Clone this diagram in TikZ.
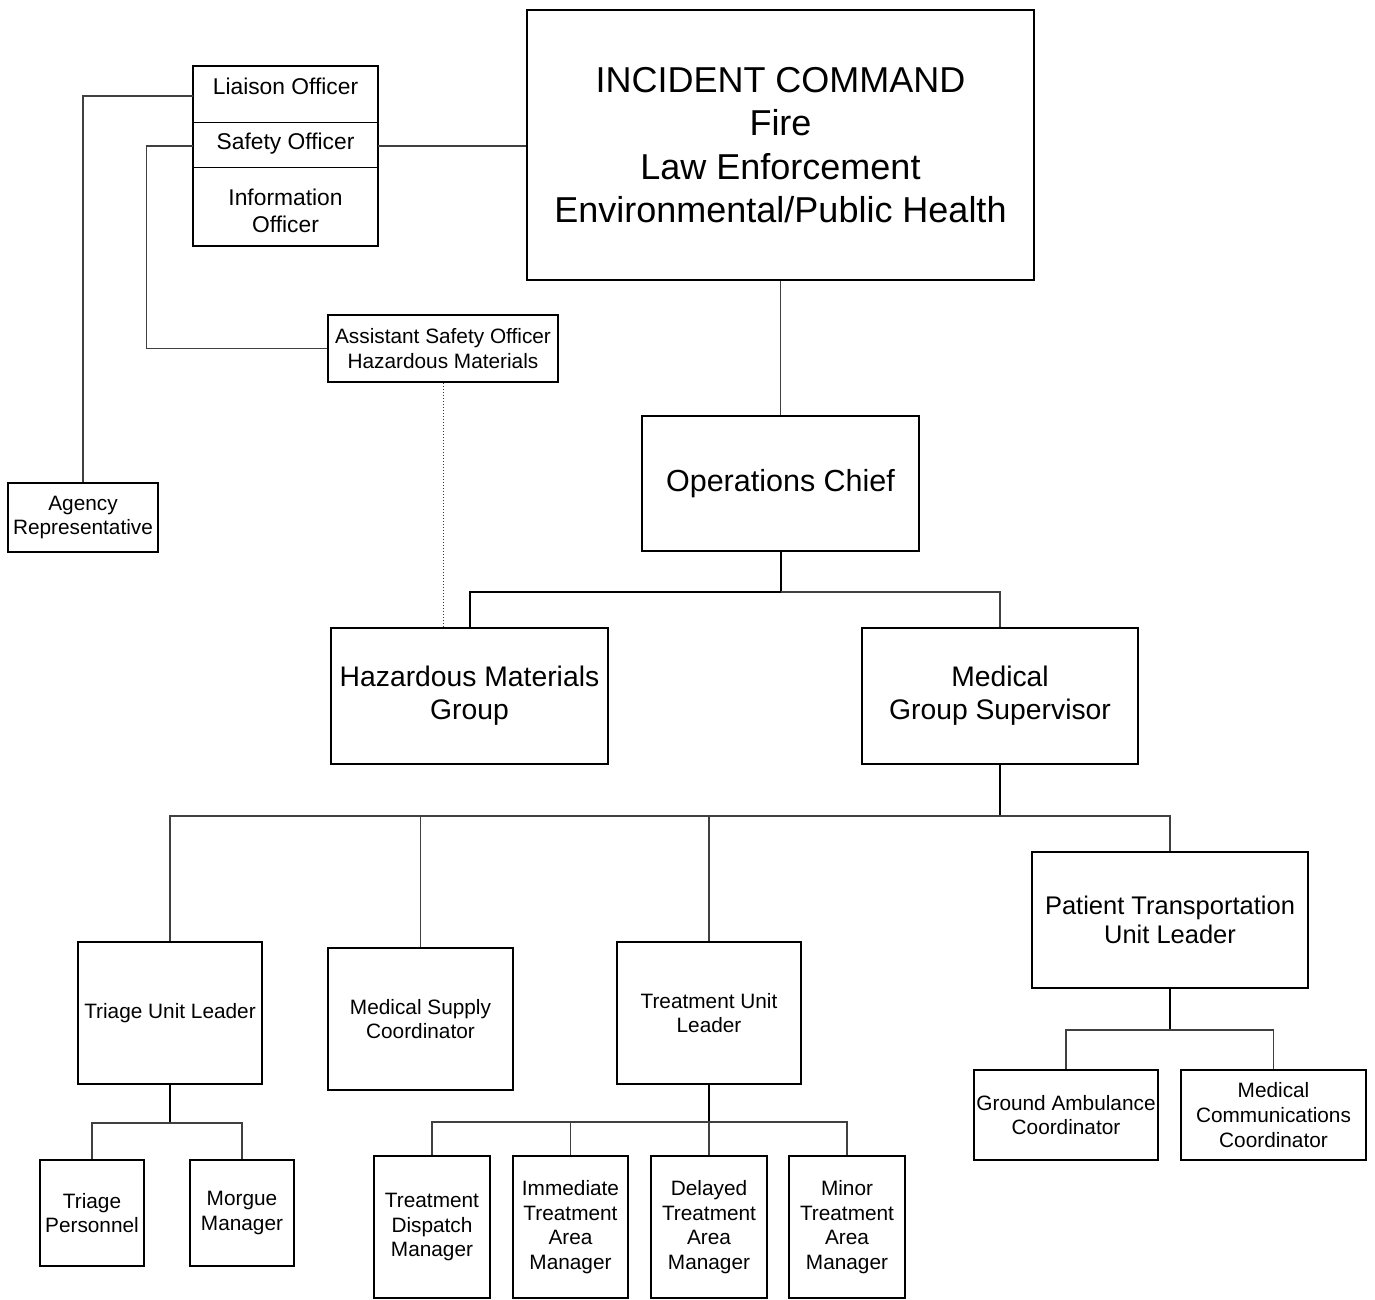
\documentclass[tikz,border=0pt]{standalone}
\usepackage{fontspec}
\setmainfont{Liberation Sans}
\begin{document}
\begin{tikzpicture}[x=1pt,y=-1pt,
  box/.style={draw, line width=2pt, inner sep=0pt, align=center, anchor=center},
  cell/.style={inner sep=0pt, align=center, anchor=center},
  fic/.style={font=\fontsize{36}{43.3}\selectfont},
  fops/.style={font=\fontsize{30.5}{36}\selectfont},
  fmid/.style={font=\fontsize{28.3}{33}\selectfont},
  fpat/.style={font=\fontsize{25.5}{29.5}\selectfont},
  foff/.style={font=\fontsize{22.8}{27}\selectfont},
  fsm/.style={font=\fontsize{20.8}{24.7}\selectfont},
  conn/.style={draw=black!75, line width=1.2pt},
  divider/.style={draw=black, line width=1.3pt},
  stem/.style={draw=black, line width=2pt},
  dotconn/.style={draw=black!80, line width=1pt, dotted}]
\useasboundingbox (0,0) rectangle (1375,1299);

% boxes
\node[box,fic,minimum width=507pt,minimum height=270pt] (ic) at (780.5,145)
  {INCIDENT COMMAND\\Fire\\Law Enforcement\\Environmental/Public Health};
% command staff box with three sections
\node[box,minimum width=185pt,minimum height=180pt] (offbox) at (285.5,156) {};
\node[cell,minimum width=185pt,minimum height=56pt] (liai) at (285.5,94) {};
\node[cell,minimum width=185pt,minimum height=45pt] (safe) at (285.5,144.5) {};
\node[cell,minimum width=185pt,minimum height=79pt] (info) at (285.5,206.5) {};
\node[cell,foff] (liait) at (285.5,86) {Liaison Officer};
\node[cell,foff] (safet) at (285.5,143.5) {Safety Officer};
\node[cell,foff] (infot) at (285.5,210.5) {Information\\Officer};
\draw[divider] (liai.south west) -- (liai.south east);
\draw[divider] (safe.south west) -- (safe.south east);

\node[box,fsm,minimum width=230pt,minimum height=67pt] (asst) at (443,348.5) {Assistant Safety Officer\\Hazardous Materials};
\node[box,fsm,minimum width=150pt,minimum height=69pt] (agency) at (83,517.5) {Agency\\Representative};
\node[box,fops,minimum width=277pt,minimum height=135pt] (ops) at (780.5,483.5) {Operations Chief};
\node[box,fmid,minimum width=277pt,minimum height=136pt] (hazmat) at (469.5,696) {Hazardous Materials\\Group};
\node[box,fmid,minimum width=276pt,minimum height=136pt] (medical) at (1000,696) {Medical\\Group Supervisor};
\node[box,fsm,minimum width=184pt,minimum height=142pt] (triage) at (170,1013) {Triage Unit Leader};
\node[box,fsm,minimum width=185pt,minimum height=142pt] (supply) at (420.5,1019) {Medical Supply\\Coordinator};
\node[box,fsm,minimum width=184pt,minimum height=142pt] (treat) at (709,1013) {Treatment Unit\\Leader};
\node[box,fpat,minimum width=276pt,minimum height=136pt] (patient) at (1170,920) {Patient Transportation\\Unit Leader};
\node[box,fsm,minimum width=104pt,minimum height=106pt] (tpers) at (92,1213) {Triage\\Personnel};
\node[box,fsm,minimum width=104pt,minimum height=106pt] (morgue) at (242,1213) {Morgue\\Manager};
\node[box,fsm,minimum width=116pt,minimum height=142pt] (dispatch) at (432,1227) {Treatment\\Dispatch\\Manager};
\node[box,fsm,minimum width=115pt,minimum height=142pt] (immed) at (570.5,1227) {Immediate\\Treatment\\Area\\Manager};
\node[box,fsm,minimum width=116pt,minimum height=142pt] (delayed) at (709,1227) {Delayed\\Treatment\\Area\\Manager};
\node[box,fsm,minimum width=116pt,minimum height=142pt] (minor) at (847,1227) {Minor\\Treatment\\Area\\Manager};
\node[box,fsm,minimum width=184pt,minimum height=90pt] (ground) at (1066,1115) {Ground Ambulance\\Coordinator};
\node[box,fsm,minimum width=185pt,minimum height=90pt] (medcomm) at (1273.5,1115) {Medical\\Communications\\Coordinator};

% command staff connectors
\draw[conn] ([yshift=-2pt]liai.west) -| (agency.north);
\draw[conn] ([yshift=-1.5pt]safe.west) -- ++(-46,0) |- (asst.west);
\draw[conn] ([yshift=-1.5pt]safe.east) -- ([yshift=-1.5pt]safe.east -| ic.west);
\draw[dotconn] (asst.south) -- (asst.south |- hazmat.north);
\draw[conn] (ic.south) -- (ops.north);

% operations
\coordinate (obar) at ([yshift=-40pt]ops.south);
\draw[stem] (ops.south) -- (obar) -| (hazmat.north);
\draw[conn] (obar) -| (medical.north);

% medical group
\coordinate (mbar) at ([yshift=-51pt]medical.south);
\draw[stem] (medical.south) -- (mbar) -- (mbar -| treat.north);
\draw[conn] (mbar) -| (treat.north);
\draw[conn] (mbar) -| (triage.north);
\draw[conn] (mbar) -| (supply.north);
\draw[conn] (mbar) -| (patient.north);

% triage
\coordinate (tbar) at ([yshift=-38pt]triage.south);
\draw[stem] (triage.south) -- (tbar);
\draw[conn] (tbar) -| (tpers.north);
\draw[conn] (tbar) -| (morgue.north);

% treatment
\coordinate (rbar) at ([yshift=-37pt]treat.south);
\draw[stem] (treat.south) -- (rbar);
\draw[conn] (rbar) -| (dispatch.north);
\draw[conn] (rbar) -| (immed.north);
\draw[conn] (rbar) -- (delayed.north);
\draw[conn] (rbar) -| (minor.north);

% patient transportation
\coordinate (pbar) at ([yshift=-41pt]patient.south);
\draw[stem] (patient.south) -- (pbar);
\draw[conn] (pbar) -| (ground.north);
\draw[conn] (pbar) -| (medcomm.north);
\end{tikzpicture}
\end{document}
